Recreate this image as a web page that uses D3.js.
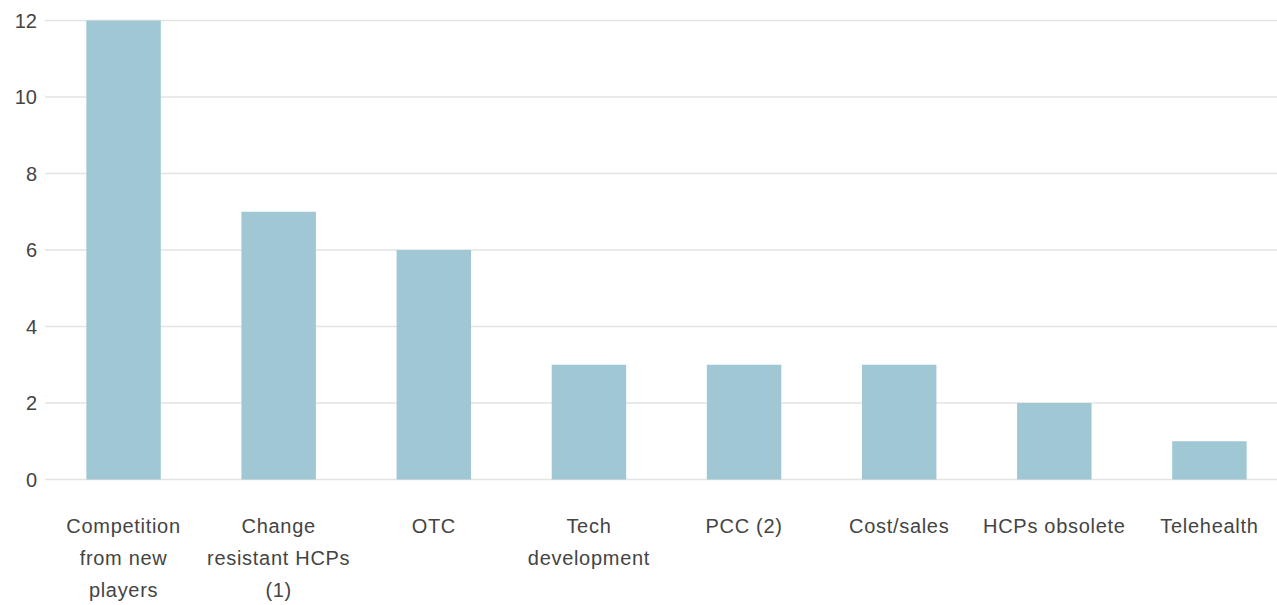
<!DOCTYPE html>
<html><head><meta charset="utf-8">
<script src="https://cdn.jsdelivr.net/npm/d3@7"></script>
<style>
html,body{margin:0;padding:0;background:#fff;}
text{font-family:"Liberation Sans",Arial,Helvetica,sans-serif;fill:#444;}
</style></head>
<body>
<svg id="chart" width="1277" height="605"></svg>
<script>
const categories = [
  ["Competition","from new","players"],
  ["Change","resistant HCPs","(1)"],
  ["OTC"],
  ["Tech","development"],
  ["PCC (2)"],
  ["Cost/sales"],
  ["HCPs obsolete"],
  ["Telehealth"]
];
const values = [12, 7, 6, 3, 3, 3, 2, 1];
const yTicks = [0, 2, 4, 6, 8, 10, 12];

const svg = d3.select("#chart");
const idx = d3.range(values.length);
const x = d3.scaleBand().domain(idx).range([46, 1287]).paddingInner(0.52).paddingOuter(0.26);
const y = d3.scaleLinear().domain([0, 12]).range([479.5, 20.5]);

// gridlines
svg.append("g").selectAll("line").data(yTicks).join("line")
  .attr("x1", 45).attr("x2", 1277)
  .attr("y1", d => y(d)).attr("y2", d => y(d))
  .attr("stroke", "#e3e3e3").attr("stroke-width", 1.5);

// y tick labels
svg.append("g").selectAll("text").data(yTicks).join("text")
  .attr("x", 37).attr("y", d => y(d)).attr("dy", "0.35em")
  .attr("text-anchor", "end").attr("font-size", 20)
  .text(d => d);

// bars
svg.append("g").selectAll("rect").data(values).join("rect")
  .attr("x", (d, i) => x(i)).attr("width", x.bandwidth())
  .attr("y", d => y(d)).attr("height", d => y(0) - y(d))
  .attr("fill", "#9fc8d4");

// x labels
const lab = svg.append("g").selectAll("text").data(categories).join("text")
  .attr("text-anchor", "middle").attr("font-size", 20)
  .attr("letter-spacing", "0.7px")
  .attr("x", (d, i) => x(i) + x.bandwidth() / 2);
lab.selectAll("tspan").data(d => d).join("tspan")
  .attr("x", function() { return this.parentNode.getAttribute("x"); })
  .attr("y", (d, j) => 533 + j * 32)
  .text(d => d);
</script>
</body></html>
